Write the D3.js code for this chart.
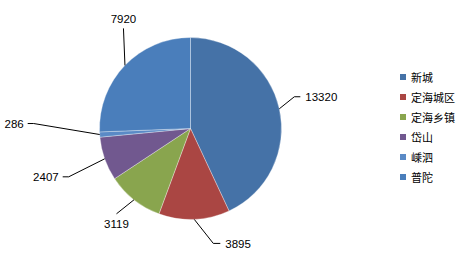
<!DOCTYPE html>
<html>
<head>
<meta charset="utf-8">
<script src="https://cdn.jsdelivr.net/npm/d3@7/dist/d3.min.js"></script>
<style>
  body { margin: 0; background: #fff; }
  svg { display: block; }
</style>
</head>
<body>
<div id="chart"></div>
<script>
// data
const regions = ["新城", "定海城区", "定海乡镇", "岱山", "嵊泗", "普陀"];
const counts = [13320, 3895, 3119, 2407, 286, 7920];
const colors = ["#4572A7", "#AA4643", "#89A54E", "#71588F", "#5A8AC6", "#4A7EBB"];

// where each label sits, relative to the point where its leader leaves the pie
// [elbow dx, elbow dy, horizontal tail length (signed), text anchor]
const labelLayout = [
    [15, -12, 6, "start"],
    [19, 24, 7, "start"],
    [-17.5, 14, 0, "middle"],
    [-36, 18, -6, "end"],
    [-66, -11, -6, "end"],
    [-1.5, -37, 0, "middle"]
];

let width = 471, height = 260;
let cx = 190.5, cy = 128.5, radius = 91;

let svg = d3.select("#chart")
    .append("svg")
        .attr("width", width)
        .attr("height", height);

let rows = regions.map(function(r, i){
    return {name: r, value: counts[i], color: colors[i], layout: labelLayout[i]};
});

//pie in original order, clockwise from 12 o'clock
let pie = d3.pie()
    .sort(null)
    .value(function(d){ return d.value; });
let arcs = pie(rows);

let arc = d3.arc().innerRadius(0).outerRadius(radius);

let g = svg.append("g")
    .attr("transform", "translate(" + cx + "," + cy + ")");

g.selectAll("path")
    .data(arcs)
    .enter().append("path")
        .attr("d", arc)
        .attr("fill", function(d){ return d.data.color; })
        .attr("stroke", "#ffffff")
        .attr("stroke-opacity", 0.55)
        .attr("stroke-width", 0.6);

//leader lines + value labels
let labels = g.selectAll(".lbl")
    .data(arcs)
    .enter().append("g")
        .attr("class", "lbl");

function edgePoint(d){
    let a = (d.startAngle + d.endAngle) / 2;
    return [radius * Math.sin(a), -radius * Math.cos(a)];
}

labels.append("polyline")
    .attr("fill", "none")
    .attr("stroke", "#000")
    .attr("stroke-width", 1)
    .attr("points", function(d){
        let p = edgePoint(d), l = d.data.layout;
        let e = [p[0] + l[0], p[1] + l[1]];
        let t = [e[0] + l[2], e[1]];
        return [p, e, t].map(function(q){ return q.join(","); }).join(" ");
    });

labels.append("text")
    .attr("font-family", "Liberation Sans, Arial, sans-serif")
    .attr("font-size", "11.5px")
    .attr("fill", "#000")
    .attr("dominant-baseline", "central")
    .attr("text-anchor", function(d){ return d.data.layout[3]; })
    .attr("x", function(d){
        let p = edgePoint(d), l = d.data.layout;
        let x = p[0] + l[0] + l[2];
        if (l[3] == "start") x += 5;
        if (l[3] == "end") x -= 4;
        return x;
    })
    .attr("y", function(d){
        let p = edgePoint(d), l = d.data.layout;
        let y = p[1] + l[1];
        if (l[3] == "middle") y += (l[1] > 0 ? 9.5 : -10);
        return y + 0.5;
    })
    .text(function(d){ return d.data.value; });

//legend
let legend = svg.append("g")
    .attr("transform", "translate(400,77)");

let ly = d3.scaleBand()
    .domain(regions)
    .range([0, 120])
    .paddingInner(0);

let item = legend.selectAll("g")
    .data(rows)
    .enter().append("g")
        .attr("transform", function(d){ return "translate(0," + ly(d.name) + ")"; });

item.append("rect")
    .attr("x", 0)
    .attr("y", -3)
    .attr("width", 6)
    .attr("height", 6)
    .attr("fill", function(d){ return d.color; });

item.append("text")
    .attr("x", 11)
    .attr("y", 0)
    .attr("dominant-baseline", "central")
    .attr("font-family", "Noto Sans CJK SC, sans-serif")
    .attr("font-size", "11px")
    .attr("fill", "#000")
    .text(function(d){ return d.name; });
</script>
</body>
</html>
